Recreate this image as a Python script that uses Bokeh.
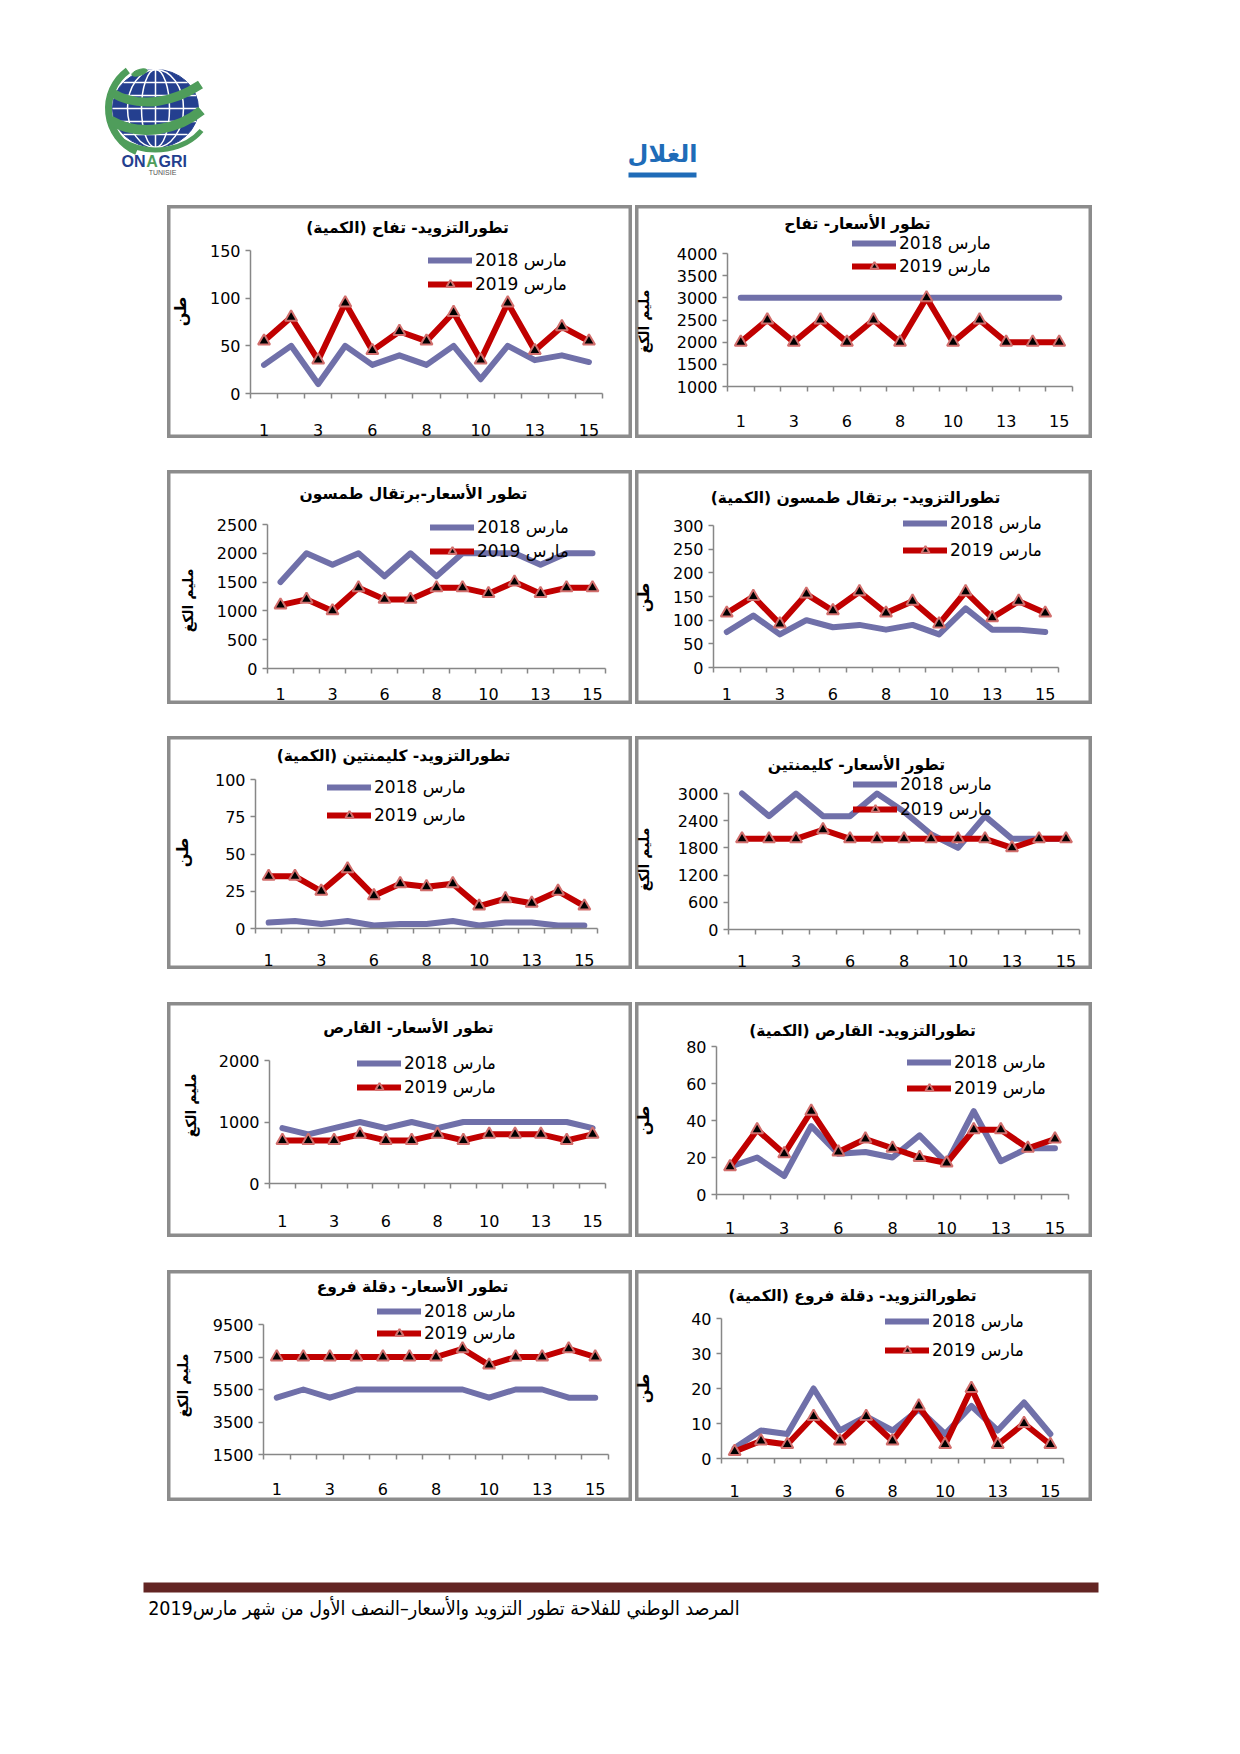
import numpy as np
from bokeh.plotting import figure
from bokeh.models import Range1d, FixedTicker, Label, Legend, LegendItem, Spacer
from bokeh.layouts import column, row
from bokeh.embed import file_html
from bokeh.resources import INLINE
from bokeh.core.properties import value

# ---------------- data ----------------
days = ["1", "2", "3", "5", "6", "7", "8", "9", "10", "12", "13", "14", "15"]
shown_days = ["1", "3", "6", "8", "10", "13", "15"]
series_labels = ["مارس 2018", "مارس 2019"]
unit_qty = "طن"
unit_price = "مليم الكغ"

apple_qty_2018 = [30, 50, 10, 50, 30, 40, 30, 50, 15, 50, 35, 40, 33]
apple_qty_2019 = [55, 80, 35, 95, 45, 65, 55, 85, 35, 95, 45, 70, 55]
apple_qty_ticks = [0, 50, 100, 150]

apple_price_2018 = [3000, 3000, 3000, 3000, 3000, 3000, 3000, 3000, 3000, 3000, 3000, 3000, 3000]
apple_price_2019 = [2000, 2500, 2000, 2500, 2000, 2500, 2000, 3000, 2000, 2500, 2000, 2000, 2000]
apple_price_ticks = [1000, 1500, 2000, 2500, 3000, 3500, 4000]

thomson_price_2018 = [1500, 2000, 1800, 2000, 1600, 2000, 1600, 2000, 2000, 2000, 1800, 2000, 2000]
thomson_price_2019 = [1100, 1200, 1000, 1400, 1200, 1200, 1400, 1400, 1300, 1500, 1300, 1400, 1400]
thomson_price_ticks = [0, 500, 1000, 1500, 2000, 2500]

thomson_qty_2018 = [75, 110, 70, 100, 85, 90, 80, 90, 70, 125, 80, 80, 75]
thomson_qty_2019 = [115, 150, 92, 155, 120, 160, 115, 140, 92, 160, 105, 140, 115]
thomson_qty_ticks = [0, 50, 100, 150, 200, 250, 300]

clem_qty_2018 = [4, 5, 3, 5, 2, 3, 3, 5, 2, 4, 4, 2, 2]
clem_qty_2019 = [35, 35, 25, 40, 22, 30, 28, 30, 15, 20, 17, 25, 15]
clem_qty_ticks = [0, 25, 50, 75, 100]

clem_price_2018 = [3000, 2500, 3000, 2500, 2500, 3000, 2600, 2100, 1800, 2500, 2000, 2000, 2000]
clem_price_2019 = [2000, 2000, 2000, 2200, 2000, 2000, 2000, 2000, 2000, 2000, 1800, 2000, 2000]
clem_price_ticks = [0, 600, 1200, 1800, 2400, 3000]

qaress_price_2018 = [900, 800, 900, 1000, 900, 1000, 900, 1000, 1000, 1000, 1000, 1000, 900]
qaress_price_2019 = [700, 700, 700, 800, 700, 700, 800, 700, 800, 800, 800, 700, 800]
qaress_price_ticks = [0, 1000, 2000]

qaress_qty_2018 = [15, 20, 10, 37, 22, 23, 20, 32, 17, 45, 18, 25, 25]
qaress_qty_2019 = [15, 35, 22, 45, 23, 30, 25, 20, 17, 35, 35, 25, 30]
qaress_qty_ticks = [0, 20, 40, 60, 80]

deglet_price_2018 = [5000, 5500, 5000, 5500, 5500, 5500, 5500, 5500, 5000, 5500, 5500, 5000, 5000]
deglet_price_2019 = [7500, 7500, 7500, 7500, 7500, 7500, 7500, 8000, 7000, 7500, 7500, 8000, 7500]
deglet_price_ticks = [1500, 3500, 5500, 7500, 9500]

deglet_qty_2018 = [3, 8, 7, 20, 8, 12, 8, 14, 7, 15, 8, 16, 7]
deglet_qty_2019 = [2, 5, 4, 12, 5, 12, 5, 15, 4, 20, 4, 10, 4]
deglet_qty_ticks = [0, 10, 20, 30, 40]

page_title = "الغلال"
footer_text = "المرصد الوطني للفلاحة تطور التزويد والأسعار–النصف الأول من شهر مارس2019"

RLM = "\u200f"
titles = {
    "p1": RLM + "تطورالتزويد- تفاح (الكمية)" + RLM,
    "p2": "تطور الأسعار- تفاح",
    "p3": "تطور الأسعار-برتقال طمسون",
    "p4": RLM + "تطورالتزويد- برتقال طمسون (الكمية)" + RLM,
    "p5": RLM + "تطورالتزويد- كليمنتين (الكمية)" + RLM,
    "p6": "تطور الأسعار- كليمنتين",
    "p7": "تطور الأسعار- القارص",
    "p8": RLM + "تطورالتزويد- القارص (الكمية)" + RLM,
    "p9": "تطور الأسعار- دقلة فروع",
    "p10": RLM + "تطورالتزويد- دقلة فروع (الكمية)" + RLM,
}

# ---------------- styles ----------------
BLUE = "#7070a9"
RED = "#c00000"
MARK_LINE = "#d26e6c"
AXIS_C = "#878787"
BORDER_C = "#8c8c8c"
NUM_FONT = "DejaVu Sans"
AR_FONT = "DejaVu Sans"

xs = list(range(1, len(days) + 1))
x_major = [i + 1 for i, d in enumerate(days) if d in shown_days]
x_minor = [i + 0.5 for i in range(len(days) + 1)]


def make_panel(s):
    bx0, by0, bx1, by1 = s["box"]
    W, H = bx1 - bx0, by1 - by0
    fl, fr, ft, fb = s["frame"]
    ticks = s["ticks"]
    ymin, ymax = ticks[0], ticks[-1]
    n = len(days)
    sx = (fr - fl) / n
    sy = (fb - ft) / (ymax - ymin)
    xr = Range1d(0.5 - (fl - bx0) / sx, n + 0.5 + (bx1 - fr) / sx)
    yr = Range1d(ymin - (by1 - fb) / sy, ymax + (ft - by0) / sy)
    p = figure(width=W, height=H, x_range=xr, y_range=yr, title=None,
               output_backend="svg", toolbar_location=None, min_border=0)
    p.outline_line_color = BORDER_C
    p.outline_line_width = 6
    p.xgrid.visible = False
    p.ygrid.visible = False
    p.background_fill_color = "white"
    p.border_fill_color = "white"

    xa = p.xaxis[0]
    xa.fixed_location = ymin
    xa.bounds = (0.5, n + 0.5)
    xa.ticker = FixedTicker(ticks=x_major, minor_ticks=x_minor)
    xa.major_label_overrides = {t: days[t - 1] for t in x_major}
    xa.major_tick_line_color = None
    xa.major_tick_out = 0
    xa.major_tick_in = 0
    xa.minor_tick_out = 5
    xa.minor_tick_in = 0
    xa.minor_tick_line_color = AXIS_C
    xa.minor_tick_line_width = 1.5
    xa.axis_line_color = AXIS_C
    xa.axis_line_width = 1.5
    xa.major_label_text_font = NUM_FONT
    xa.major_label_text_font_size = "16px"
    xa.major_label_text_color = "black"
    xa.major_label_standoff = int(s["xlab"] - fb - 9)

    ya = p.yaxis[0]
    ya.fixed_location = 0.5
    ya.bounds = (ymin, ymax)
    ya.ticker = FixedTicker(ticks=ticks, minor_ticks=[])
    ya.major_tick_out = 5
    ya.major_tick_in = 0
    ya.major_tick_line_color = AXIS_C
    ya.major_tick_line_width = 1.5
    ya.minor_tick_line_color = None
    ya.axis_line_color = AXIS_C
    ya.axis_line_width = 1.5
    ya.major_label_text_font = NUM_FONT
    ya.major_label_text_font_size = "16px"
    ya.major_label_text_color = "black"
    ya.major_label_standoff = 5

    r1 = p.line(xs, s["y18"], line_color=BLUE, line_width=6, line_join="round", line_cap="round")
    r2 = p.line(xs, s["y19"], line_color=RED, line_width=6, line_join="round", line_cap="round")
    r3 = p.scatter(xs, s["y19"], marker="triangle", size=12, fill_color="black",
                   line_color=MARK_LINE, line_width=2)

    tcx, tcy = s["title_at"]
    p.add_layout(Label(x=tcx - bx0, y=by1 - tcy, x_units="screen", y_units="screen",
                       text=s["title"], text_align="center", text_baseline="middle",
                       text_font=AR_FONT, text_font_style="bold", text_font_size="15.5px",
                       text_color="black"))
    lx, ly = s["ylab_at"]
    ysize = "16px" if s["unit"] == unit_qty else "14px"
    p.add_layout(Label(x=lx - bx0, y=by1 - ly, x_units="screen", y_units="screen",
                       text=s["unit"], angle=np.pi / 2, text_align="center", text_baseline="middle",
                       text_font=AR_FONT, text_font_style="bold", text_font_size=ysize,
                       text_color="black"))

    gsx, row1, row2 = s["legend_at"]
    gh = 20
    legend = Legend(items=[LegendItem(label=series_labels[0], renderers=[r1]),
                           LegendItem(label=series_labels[1], renderers=[r2, r3])],
                    location=(gsx - bx0, by1 - (row2 + gh / 2)),
                    orientation="vertical", glyph_width=44, glyph_height=gh,
                    label_height=gh, spacing=int(row2 - row1 - gh), padding=0, margin=0,
                    label_standoff=3, border_line_color=None, background_fill_alpha=0,
                    label_text_font=NUM_FONT, label_text_font_size="17px",
                    label_text_color="black")
    p.add_layout(legend)
    return p


specs = [
    dict(name="p1", box=(167, 205, 632, 438), frame=(250, 602, 250, 393), ticks=apple_qty_ticks,
         y18=apple_qty_2018, y19=apple_qty_2019, unit=unit_qty, title_at=(407, 227),
         xlab=427, ylab_at=(180, 311), legend_at=(428, 260, 284)),
    dict(name="p2", box=(635, 205, 1092, 438), frame=(727, 1072, 253, 386), ticks=apple_price_ticks,
         y18=apple_price_2018, y19=apple_price_2019, unit=unit_price, title_at=(857, 223),
         xlab=418, ylab_at=(643, 321), legend_at=(852, 243, 266)),
    dict(name="p3", box=(167, 470, 632, 704), frame=(267, 605, 524, 668), ticks=thomson_price_ticks,
         y18=thomson_price_2018, y19=thomson_price_2019, unit=unit_price, title_at=(413, 493),
         xlab=691, ylab_at=(187, 600), legend_at=(430, 527, 551)),
    dict(name="p4", box=(635, 470, 1092, 704), frame=(713, 1058, 525, 667), ticks=thomson_qty_ticks,
         y18=thomson_qty_2018, y19=thomson_qty_2019, unit=unit_qty, title_at=(855, 497),
         xlab=691, ylab_at=(643, 597), legend_at=(903, 523, 550)),
    dict(name="p5", box=(167, 736, 632, 969), frame=(255, 597, 779, 928), ticks=clem_qty_ticks,
         y18=clem_qty_2018, y19=clem_qty_2019, unit=unit_qty, title_at=(393, 755),
         xlab=957, ylab_at=(182, 852), legend_at=(327, 787, 815)),
    dict(name="p6", box=(635, 736, 1092, 969), frame=(728, 1079, 793, 929), ticks=clem_price_ticks,
         y18=clem_price_2018, y19=clem_price_2019, unit=unit_price, title_at=(856, 764),
         xlab=958, ylab_at=(643, 859), legend_at=(853, 784, 809)),
    dict(name="p7", box=(167, 1002, 632, 1237), frame=(269, 605, 1060, 1183), ticks=qaress_price_ticks,
         y18=qaress_price_2018, y19=qaress_price_2019, unit=unit_price, title_at=(408, 1027),
         xlab=1218, ylab_at=(190, 1105), legend_at=(357, 1063, 1087)),
    dict(name="p8", box=(635, 1002, 1092, 1237), frame=(716, 1068, 1046, 1194), ticks=qaress_qty_ticks,
         y18=qaress_qty_2018, y19=qaress_qty_2019, unit=unit_qty, title_at=(862, 1030),
         xlab=1225, ylab_at=(643, 1120), legend_at=(907, 1062, 1088)),
    dict(name="p9", box=(167, 1270, 632, 1501), frame=(263, 608, 1324, 1454), ticks=deglet_price_ticks,
         y18=deglet_price_2018, y19=deglet_price_2019, unit=unit_price, title_at=(412, 1286),
         xlab=1486, ylab_at=(182, 1385), legend_at=(377, 1311, 1333)),
    dict(name="p10", box=(635, 1270, 1092, 1501), frame=(721, 1063, 1318, 1458), ticks=deglet_qty_ticks,
         y18=deglet_qty_2018, y19=deglet_qty_2019, unit=unit_qty, title_at=(852, 1295),
         xlab=1488, ylab_at=(643, 1388), legend_at=(885, 1321, 1350)),
]
for s in specs:
    s["title"] = titles[s["name"]]

panels = [make_panel(s) for s in specs]

# ---------------- header ----------------
HDR_H = 205
hdr = figure(width=1224, height=HDR_H, x_range=Range1d(0, 1224), y_range=Range1d(HDR_H, 0),
             output_backend="svg", toolbar_location=None, min_border=0, title=None,
             x_axis_type=None, y_axis_type=None)
hdr.outline_line_color = None
hdr.xgrid.visible = False
hdr.ygrid.visible = False

GREEN = "#4f9d5b"
NAVY = "#243f8f"
gx, gy = 155, 108
hdr.arc(x=gx, y=gy, radius=47, start_angle=2.2, end_angle=4.3, line_color=GREEN, line_width=7)
hdr.ellipse(x=gx, y=gy, width=86, height=78, fill_color=NAVY, line_color=NAVY)
for w in (28, 56):
    hdr.ellipse(x=gx, y=gy, width=w, height=78, fill_color=None, line_color="white", line_width=1.5)
hdr.segment(x0=gx, y0=gy - 39, x1=gx, y1=gy + 39, line_color="white", line_width=1.5)
for dy in (-26, -13, 0, 13, 26):
    half = 43 * np.sqrt(max(0.0, 1 - (dy / 39.0) ** 2))
    hdr.segment(x0=gx - half, y0=gy + dy, x1=gx + half, y1=gy + dy, line_color="white", line_width=1.5)
hdr.bezier(x0=111, y0=92, x1=200, y1=84, cx0=141, cy0=110, cx1=176, cy1=100, line_color=GREEN, line_width=9)
hdr.bezier(x0=110, y0=120, x1=201, y1=110, cx0=141, cy0=138, cx1=179, cy1=128, line_color=GREEN, line_width=10)
hdr.bezier(x0=121, y0=140, x1=201, y1=130, cx0=151, cy0=158, cx1=186, cy1=148, line_color=GREEN, line_width=5)
hdr.ellipse(x=139, y=72, width=16, height=6, angle=0.3, fill_color=GREEN, line_color=GREEN)
LOGO_FONT = value("Liberation Sans")
hdr.text(x=[145], y=[161], text=["ON"], text_align="right", text_baseline="middle",
         text_font=LOGO_FONT, text_font_style="bold", text_font_size="16px", text_color=NAVY)
hdr.text(x=[151.5], y=[161], text=["A"], text_align="center", text_baseline="middle",
         text_font=LOGO_FONT, text_font_style="bold", text_font_size="16px", text_color=GREEN)
hdr.text(x=[158], y=[161], text=["GRI"], text_align="left", text_baseline="middle",
         text_font=LOGO_FONT, text_font_style="bold", text_font_size="16px", text_color=NAVY)
hdr.text(x=[162], y=[172], text=["TUNISIE"], text_align="center", text_baseline="middle",
         text_font=LOGO_FONT, text_font_size="7px", text_color="#555555")

TITLE_BLUE = "#1f6cb8"
hdr.text(x=[662], y=[153], text=[page_title], text_align="center", text_baseline="middle",
         text_font=value(AR_FONT), text_font_style="bold", text_font_size="24px", text_color=TITLE_BLUE)
hdr.quad(left=628, right=696, top=172, bottom=177, fill_color=TITLE_BLUE, line_color=None)

# ---------------- footer ----------------
FTR_TOP, FTR_BOT = 1501, 1641
ftr = figure(width=1224, height=FTR_BOT - FTR_TOP, x_range=Range1d(0, 1224),
             y_range=Range1d(FTR_BOT, FTR_TOP), title=None,
             output_backend="svg", toolbar_location=None, min_border=0,
             x_axis_type=None, y_axis_type=None)
ftr.outline_line_color = None
ftr.xgrid.visible = False
ftr.ygrid.visible = False
ftr.quad(left=143, right=1098, top=1582, bottom=1592, fill_color="#632523", line_color=None)
ftr.text(x=[739], y=[1608], text=[footer_text], text_align="right", text_baseline="middle",
         text_font=value("DejaVu Sans Condensed, DejaVu Sans"), text_font_size="19.5px", text_color="black")

# ---------------- layout ----------------
row_boxes = [(205, 438), (470, 704), (736, 969), (1002, 1237), (1270, 1501)]
children = [hdr]
prev_bottom = HDR_H
for i, (top, bottom) in enumerate(row_boxes):
    if top > prev_bottom:
        children.append(Spacer(width=10, height=top - prev_bottom))
    h = bottom - top
    children.append(row(Spacer(width=167, height=h), panels[2 * i],
                        Spacer(width=635 - 632, height=h), panels[2 * i + 1]))
    prev_bottom = bottom
children.append(ftr)
page = column(*children)

open("out.html", "w").write(file_html(page, INLINE))
